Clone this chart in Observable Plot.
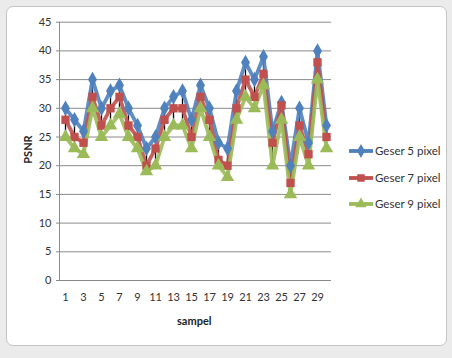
<!DOCTYPE html>
<html>
<head>
<meta charset="utf-8">
<script src="https://cdn.jsdelivr.net/npm/d3@7"></script>
<script src="https://cdn.jsdelivr.net/npm/@observablehq/plot@0.6"></script>
<style>
  html, body { margin: 0; padding: 0; background: #ebebeb; }
  #wrap { position: relative; width: 452px; height: 358px; overflow: hidden; font-family: Lato, "Open Sans", sans-serif; }
  #frame { position: absolute; left: 6px; top: 6px; width: 439px; height: 338px; background: #fff; border: 1px solid #c4c4c4; border-radius: 7px; }
  #chart { position: absolute; left: 0; top: 0; }
  .lbl { position: absolute; color: #222; font-size: 11px; }
  #legend { position: absolute; left: 348px; top: 144px; font-size: 11.5px; color: #333; }
  #legend div { height: 26.5px; display: flex; align-items: flex-start; }
  #legend svg { margin-right: 1px; }
</style>
</head>
<body>
<div id="wrap">
  <div id="frame"></div>
  <div id="chart"></div>
  <div class="lbl" style="left:177px; top:314px; font-weight:bold;">sampel</div>
  <div class="lbl" style="left:13px; top:143px; font-weight:bold; transform: rotate(-90deg); transform-origin: center;">PSNR</div>
  <div id="legend"></div>
</div>
<script>
const samples = d3.range(1, 31);
const seriesNames = ["Geser 5 pixel", "Geser 7 pixel", "Geser 9 pixel"];
const geser5 = [30, 28, 26, 35, 30, 33, 34, 30, 27, 23, 25, 30, 32, 33, 28, 34, 30, 24, 23, 33, 38, 35, 39, 26, 31, 20, 30, 24, 40, 27];
const geser7 = [28, 25, 24, 32, 27, 30, 32, 27, 25, 20, 23, 28, 30, 30, 25, 32, 28, 21, 20, 30, 35, 32, 36, 24, 30.5, 17, 27, 22, 38, 25];
const geser9 = [25, 23, 22, 30, 25, 27, 29, 25, 23, 19, 20, 25, 27, 27, 23, 30, 25, 20, 18, 28, 32, 30, 34, 20, 28, 15, 25, 20, 35, 23];
const yTicks = [0, 5, 10, 15, 20, 25, 30, 35, 40, 45];
const xTicks = [1, 3, 5, 7, 9, 11, 13, 15, 17, 19, 21, 23, 25, 27, 29];
const colors = ["#4F81BD", "#C0504D", "#9BBB59"];
const symbols = ["diamond", "square", "triangle"];

const allSeries = [geser5, geser7, geser9];
const data = [];
allSeries.forEach((vals, i) => vals.forEach((v, j) => data.push({sample: samples[j], value: v, series: seriesNames[i]})));
const hilo = samples.map((s, j) => ({sample: s, lo: d3.min(allSeries, a => a[j]), hi: d3.max(allSeries, a => a[j])}));

const marks = [
  Plot.ruleY(yTicks, {stroke: "#8a8a8a", strokeWidth: 1}),
  Plot.axisY({ticks: yTicks, tickSize: 3, tickPadding: 5, fontSize: 11, color: "#333", stroke: "#8a8a8a", label: null}),
  Plot.axisX({ticks: xTicks, tickSize: 0, tickPadding: 13, fontSize: 11, color: "#333", label: null}),
  Plot.ruleX(hilo, {x: "sample", y1: "lo", y2: "hi", stroke: "#000", strokeWidth: 1.3})
];
seriesNames.forEach((name, i) => {
  const d = data.filter(r => r.series === name);
  marks.push(Plot.line(d, {x: "sample", y: "value", stroke: colors[i], strokeWidth: 3.8, strokeOpacity: 0.9}));
});
seriesNames.forEach((name, i) => {
  const d = data.filter(r => r.series === name);
  marks.push(Plot.dot(d, {x: "sample", y: "value", fill: colors[i], symbol: symbols[i], r: i === 2 ? 5 : 4.7, stroke: "none"}));
});
marks.push(Plot.frame({anchor: "left", stroke: "#8a8a8a"}));

const chart = Plot.plot({
  width: 452,
  height: 358,
  marginLeft: 59,
  marginRight: 121,
  marginTop: 21.7,
  marginBottom: 78,
  style: {background: "transparent", fontFamily: "Lato, 'Open Sans', sans-serif"},
  x: {type: "point", domain: samples, padding: 0.5},
  y: {domain: [0, 45]},
  marks
});
document.getElementById("chart").appendChild(chart);

const legend = document.getElementById("legend");
const symMap = {diamond: d3.symbolDiamond, square: d3.symbolSquare, triangle: d3.symbolTriangle};
seriesNames.forEach((name, i) => {
  const row = document.createElement("div");
  const sym = d3.symbol(symMap[symbols[i]], 56)();
  row.innerHTML = `<svg width="26" height="14"><line x1="1" x2="25" y1="7" y2="7" stroke="${colors[i]}" stroke-width="3.8"/><path d="${sym}" transform="translate(13,7)" fill="${colors[i]}"/></svg><span>${name}</span>`;
  legend.appendChild(row);
});
</script>
</body>
</html>
